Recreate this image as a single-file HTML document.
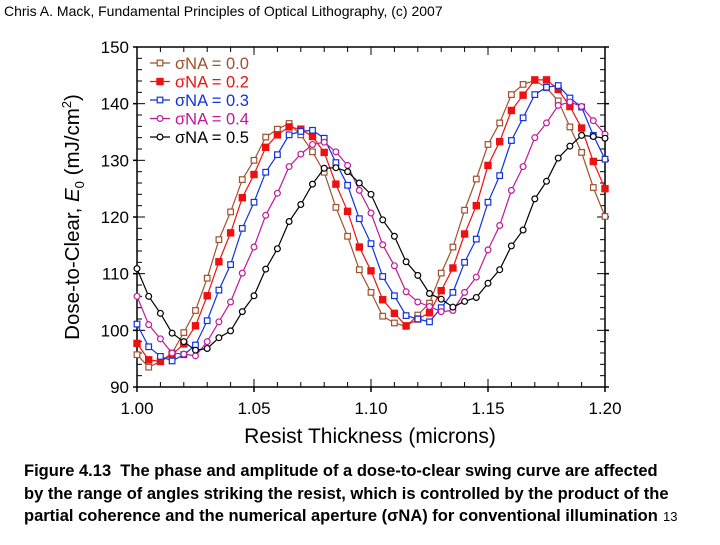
<!DOCTYPE html>
<html><head><meta charset="utf-8"><style>
body{margin:0;background:#fff;width:720px;height:540px;overflow:hidden;font-family:"Liberation Sans",Arial,sans-serif}
</style></head><body>
<svg width="720" height="540" viewBox="0 0 720 540" xmlns="http://www.w3.org/2000/svg" font-family="Liberation Sans, Arial, sans-serif">
<text x="4" y="16" font-size="14" fill="#000">Chris A. Mack, Fundamental Principles of Optical Lithography, (c) 2007</text>
<g id="axes"></g>
<g id="series"></g>
<g id="legend"></g>
<text x="370" y="443" font-size="21" text-anchor="middle">Resist Thickness (microns)</text>
<text transform="translate(79,217) rotate(-90)" font-size="20.5" text-anchor="middle">Dose-to-Clear, <tspan font-style="italic">E</tspan><tspan font-size="13" dy="5">0</tspan><tspan dy="-5"> (mJ/cm</tspan><tspan font-size="13" dy="-8">2</tspan><tspan dy="8">)</tspan></text>
<g font-size="16.5" font-weight="bold">
<text x="24" y="476" xml:space="preserve">Figure 4.13  The phase and amplitude of a dose-to-clear swing curve are affected</text>
<text x="24" y="499">by the range of angles striking the resist, which is controlled by the product of the</text>
<text x="24" y="521">partial coherence and the numerical aperture (σNA) for conventional illumination</text>
</g>
<text x="663" y="521" font-size="13">13</text>
</svg>
<script>
const xTicks=[1.00,1.05,1.10,1.15,1.20];
const xTickLabels=["1.00","1.05","1.10","1.15","1.20"];
const yTicks=[90,100,110,120,130,140,150];
const yTickLabels=["90","100","110","120","130","140","150"];
const thickness=[1.000,1.005,1.010,1.015,1.020,1.025,1.030,1.035,1.040,1.045,1.050,1.055,1.060,1.065,1.070,1.075,1.080,1.085,1.090,1.095,1.100,1.105,1.110,1.115,1.120,1.125,1.130,1.135,1.140,1.145,1.150,1.155,1.160,1.165,1.170,1.175,1.180,1.185,1.190,1.195,1.200];
const seriesNames=["σNA = 0.0","σNA = 0.2","σNA = 0.3","σNA = 0.4","σNA = 0.5"];
const na00=[95.7,93.5,94.5,96.0,99.6,103.5,109.2,116.0,120.9,126.6,130.0,134.1,135.5,136.5,134.5,131.5,127.9,121.7,116.6,110.7,106.7,102.5,101.3,100.7,102.7,104.8,110.1,114.7,121.2,126.7,132.8,136.6,141.6,143.4,144.1,142.8,140.5,135.9,131.4,125.2,120.1];
const na02=[97.7,94.8,94.5,95.7,97.6,100.8,106.1,112.1,117.2,123.4,127.5,132.3,134.5,135.9,135.5,134.2,131.4,125.8,121.0,114.7,110.5,105.4,103.0,100.8,102.0,103.1,107.0,111.0,117.0,122.0,129.1,133.3,138.8,141.5,144.2,144.2,142.5,139.5,135.7,129.8,125.0];
const na03=[101.1,97.1,95.4,94.6,95.7,97.4,101.7,107.1,111.6,118.0,122.6,127.9,131.0,134.5,135.1,135.3,133.9,129.6,125.6,119.7,115.3,109.5,106.1,102.6,102.0,101.5,104.0,106.7,112.0,116.1,122.6,127.3,133.5,137.5,141.6,142.9,143.2,141.0,139.4,134.4,130.2];
const na04=[106.0,101.0,98.5,96.0,95.8,95.5,98.0,101.5,105.0,110.1,114.7,120.3,124.2,128.9,131.1,132.8,133.2,131.5,129.1,124.7,120.7,115.1,111.4,106.8,105.0,104.2,103.3,103.5,106.7,109.4,114.2,118.5,124.7,128.9,134.0,136.6,139.7,140.3,139.5,137.0,134.6];
const na05=[110.9,106.0,103.0,99.5,98.0,96.5,96.8,98.7,99.9,103.3,106.1,110.8,114.4,119.2,122.2,125.8,128.6,128.7,128.0,126.0,124.0,119.5,116.6,112.1,109.7,106.5,105.5,104.1,105.1,105.8,108.3,110.7,114.9,117.7,123.2,126.3,130.4,132.5,134.4,134.2,133.9];

const NS="http://www.w3.org/2000/svg";
const X0=137,X1=605,Y0=387,Y1=47;
const xs=v=>X0+(v-1.0)/(0.2)*(X1-X0);
const ys=v=>Y0-(v-90)/60*(Y0-Y1);
function mk(tag,attrs,parent){const e=document.createElementNS(NS,tag);for(const k in attrs)e.setAttribute(k,attrs[k]);parent.appendChild(e);return e;}
const axes=document.getElementById('axes');
const frame=mk('rect',{x:X0,y:Y1,width:X1-X0,height:Y0-Y1,fill:'none',stroke:'#000','stroke-width':1.5},axes);


for(let v=90;v<=150;v+=2){const y=ys(v);const major=(v%10===0);const L=major?8:5;
 mk('line',{x1:X0,y1:y,x2:X0+L,y2:y,stroke:'#000','stroke-width':1},axes);
 mk('line',{x1:X1,y1:y,x2:X1-L,y2:y,stroke:'#000','stroke-width':1},axes);
 if(major){mk('line',{x1:X0-4,y1:y,x2:X0,y2:y,stroke:'#000','stroke-width':1.5},axes);mk('line',{x1:X1,y1:y,x2:X1+4,y2:y,stroke:'#000','stroke-width':1.5},axes);}
}
for(let i=0;i<=20;i++){const v=1.0+i*0.01;const x=xs(v);const major=(i%5===0);const L=major?8:5;
 mk('line',{x1:x,y1:Y0,x2:x,y2:Y0-L,stroke:'#000','stroke-width':1},axes);
 mk('line',{x1:x,y1:Y1,x2:x,y2:Y1+L,stroke:'#000','stroke-width':1},axes);
 if(major)mk('line',{x1:x,y1:Y0,x2:x,y2:Y0+5,stroke:'#000','stroke-width':1.5},axes);
}
yTicks.forEach((v,i)=>{const t=mk('text',{x:X0-8,y:ys(v)+6,'font-size':17,'text-anchor':'end'},axes);t.textContent=yTickLabels[i];
 
 });
xTicks.forEach((v,i)=>{const t=mk('text',{x:xs(v),y:414,'font-size':17,'text-anchor':'middle'},axes);t.textContent=xTickLabels[i];
 
 });

const colors=['#a0522d','#ee1111','#1133dd','#c0189c','#000000'];
const marks=['sq','sqf','sq','circ','circ'];
const data=[na00,na02,na03,na04,na05];
const sg=document.getElementById('series');
function marker(g,type,x,y,c){
 if(type==='sq')return mk('rect',{x:x-2.8,y:y-2.8,width:5.6,height:5.6,fill:'#fff',stroke:c,'stroke-width':1.2},g);
 if(type==='sqf')return mk('rect',{x:x-3.3,y:y-3.3,width:6.6,height:6.6,fill:c,stroke:c,'stroke-width':0.8},g);
 return mk('circle',{cx:x,cy:y,r:2.9,fill:'#fff',stroke:c,'stroke-width':1.2},g);
}
data.forEach((arr,s)=>{
 const g=mk('g',{},sg);
 
 
 const pts=arr.map((v,i)=>xs(thickness[i]).toFixed(1)+','+ys(v).toFixed(1)).join(' ');
 const pl=mk('polyline',{points:pts,fill:'none',stroke:colors[s],'stroke-width':1.2},g);
 
 
 arr.forEach((v,i)=>{const m=marker(g,marks[s],xs(thickness[i]),ys(v),colors[s]);
  
  });
});
const lg=document.getElementById('legend');
seriesNames.forEach((n,s)=>{
 const y=63+s*18.5;
 const g=mk('g',{},lg);
 
 
 mk('line',{x1:150,y1:y,x2:170,y2:y,stroke:colors[s],'stroke-width':1.2},g);
 marker(g,marks[s],160,y,colors[s]);
 const t=mk('text',{x:175,y:y+6,'font-size':16.5,fill:colors[s]},g);t.textContent=n;
});
</script>
</body></html>
